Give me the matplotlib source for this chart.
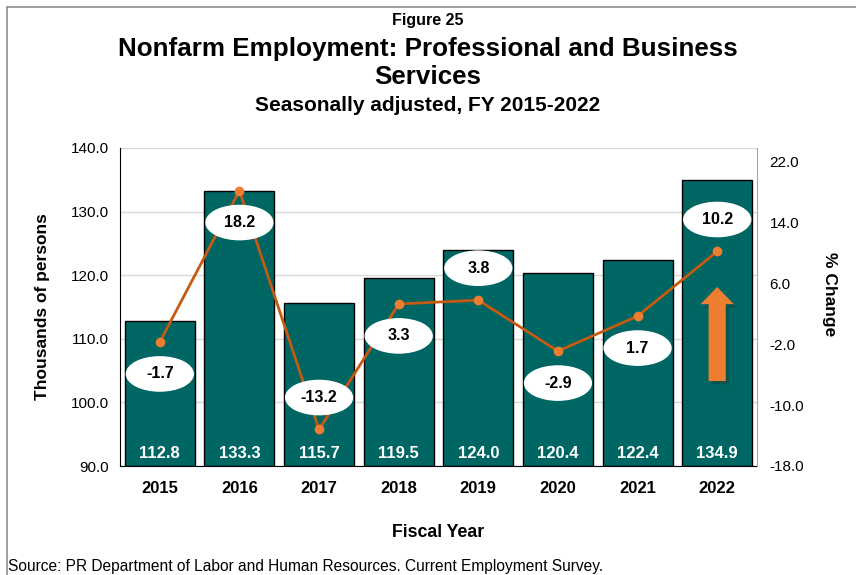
import matplotlib.pyplot as plt
from matplotlib.patches import Rectangle, Ellipse

plt.rcParams['font.family'] = ['Liberation Sans', 'DejaVu Sans']

years = ['2015', '2016', '2017', '2018', '2019', '2020', '2021', '2022']
employment = [112.8, 133.3, 115.7, 119.5, 124.0, 120.4, 122.4, 134.9]
pct_change = [-1.7, 18.2, -13.2, 3.3, 3.8, -2.9, 1.7, 10.2]
# label placement: True = label above the point
label_above = [False, False, True, False, True, False, False, True]

fig = plt.figure(figsize=(8.56, 5.75), dpi=100)
ax = fig.add_axes([120/856, 1 - 466/575, 637/856, 318/575])
ax2 = ax.twinx()

x = range(len(years))
ax.bar(x, [v - 90 for v in employment], bottom=90, width=0.88,
       color='#006663', edgecolor='black', linewidth=1, zorder=2)
for i, v in enumerate(employment):
    ax.text(i, 91.9, '{:.1f}'.format(v), ha='center', va='center',
            color='white', fontsize=12, fontweight='bold', zorder=3)

ax.set_ylim(90, 140)
ax.set_xlim(-0.5, len(years) - 0.5)
ax.set_yticks([90, 100, 110, 120, 130, 140])
ax.set_yticklabels(['{:.1f}'.format(t) for t in ax.get_yticks()], fontsize=11)
ax.set_xticks(list(x))
ax.set_xticklabels(years, fontsize=12, fontweight='bold')
ax.tick_params(axis='x', length=0, pad=11)
ax.tick_params(axis='y', length=0, pad=8)
ax.grid(axis='y', color='#d9d9d9', linewidth=1, zorder=0)
ax.set_axisbelow(True)
ax.spines['top'].set_visible(False)
ax.spines['right'].set_visible(False)
ax.spines['left'].set_color('black')
ax.spines['bottom'].set_color('black')
ax.set_ylabel('Thousands of persons', fontsize=12.5, fontweight='bold')
ax.yaxis.set_label_coords(-0.11, 0.5)
ax.set_xlabel('Fiscal Year', fontsize=12.8, fontweight='bold', labelpad=20)

ax2.plot(list(x), pct_change, color='#C55A11', linewidth=2, marker='o',
         markersize=6, markerfacecolor='#ED7D31', markeredgecolor='#ED7D31', zorder=4)
ax2.set_ylim(-18, 23.8)
ax2.set_yticks([-18, -10, -2, 6, 14, 22])
ax2.set_yticklabels(['{:.1f}'.format(t) for t in [-18, -10, -2, 6, 14, 22]], fontsize=11)
ax2.tick_params(axis='y', length=0, pad=9)
for s in ['top', 'left', 'bottom']:
    ax2.spines[s].set_visible(False)
ax2.spines['right'].set_color('#a6a6a6')
ax2.set_ylabel('% Change', fontsize=12.5, fontweight='bold', rotation=270)
ax2.yaxis.set_label_coords(1.125, 0.54)

for i, v in enumerate(pct_change):
    cy = v + (4.2 if label_above[i] else -4.2)
    ax2.add_patch(Ellipse((i, cy), 0.84, 4.5, fc='white', ec='white', zorder=6))
    ax2.text(i, cy, '{:.1f}'.format(v), ha='center', va='center',
             fontsize=11.5, fontweight='bold', color='black', zorder=7)

# orange up arrow in the 2022 bar (with a soft shadow)
arrow_style = 'simple,head_width=1.2,head_length=0.62,tail_width=0.62'
ax2.annotate('', xy=(7.04, 5.4), xytext=(7.04, -7.6),
             arrowprops=dict(arrowstyle=arrow_style, mutation_scale=20,
                             fc='#1f2f2f', ec='none', alpha=0.35), zorder=4)
ax2.annotate('', xy=(7.0, 5.9), xytext=(7.0, -7.2),
             arrowprops=dict(arrowstyle=arrow_style, mutation_scale=20,
                             fc='#ED7D31', ec='none'), zorder=5)

fig.text(0.5, 1 - 20/575, 'Figure 25', ha='center', va='center', fontsize=11.5, fontweight='bold')
fig.text(0.5, 1 - 63/575, 'Nonfarm Employment: Professional and Business\nServices',
         ha='center', va='center', fontsize=18.7, fontweight='bold', linespacing=1.25)
fig.text(0.5, 1 - 105/575, 'Seasonally adjusted, FY 2015-2022', ha='center', va='center',
         fontsize=15, fontweight='bold')
fig.text(8/856, 1 - 566/575, 'Source: PR Department of Labor and Human Resources. Current Employment Survey.',
         ha='left', va='center', fontsize=11.2)

fig.patches.append(Rectangle((7/856, -0.05), 1.2, 1 - 7/575 + 0.05,
                             transform=fig.transFigure, fill=False, ec='#8c8c8c', lw=1.2))

fig.savefig('out.png', dpi=100)
